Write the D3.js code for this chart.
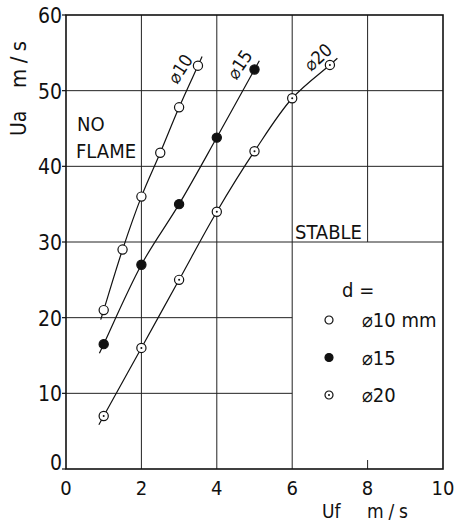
<!DOCTYPE html>
<html>
<head>
<meta charset="utf-8">
<script src="https://cdn.jsdelivr.net/npm/d3@7"></script>
<style>
  html, body { margin: 0; padding: 0; background: #fff; }
  svg { display: block; }
  text { font-family: "DejaVu Sans Condensed", "DejaVu Sans", sans-serif; font-stretch: condensed; fill: #111; }
</style>
</head>
<body>
<svg id="chart" width="455" height="522"></svg>
<script>
// Flame stability limit: air velocity Ua vs fuel velocity Uf, three nozzle diameters
const uf10 = [1, 1.5, 2, 2.5, 3, 3.5];
const ua10 = [21, 29, 36, 41.8, 47.8, 53.3];
const uf15 = [1, 2, 3, 4, 5];
const ua15 = [16.5, 27, 35, 43.8, 52.8];
const uf20 = [1, 2, 3, 4, 5, 6, 7];
const ua20 = [7, 16, 25, 34, 42, 49, 53.4];

const seriesNames = ["\u230010", "\u230015", "\u230020"];
const legendNames = ["\u230010 mm", "\u230015", "\u230020"];
const markerKinds = ["open", "filled", "dotted"];

const xTicks = [0, 2, 4, 6, 8, 10];
const yTicks = [0, 10, 20, 30, 40, 50, 60];

const series = [
  { name: seriesNames[0], legend: legendNames[0], kind: markerKinds[0], pts: uf10.map((u, i) => [u, ua10[i]]) },
  { name: seriesNames[1], legend: legendNames[1], kind: markerKinds[1], pts: uf15.map((u, i) => [u, ua15[i]]) },
  { name: seriesNames[2], legend: legendNames[2], kind: markerKinds[2], pts: uf20.map((u, i) => [u, ua20[i]]) }
];

const svg = d3.select("#chart");
const x = d3.scaleLinear().domain([0, 10]).range([66, 443]);
const y = d3.scaleLinear().domain([0, 60]).range([469, 15]);

const ink = "#111";
const g = svg.append("g");

// grid: the lower-right block (x >= 6, y <= 30) is kept free for the legend
const gridG = g.append("g").attr("stroke", "#222").attr("stroke-width", 1);
yTicks.filter(v => v > 0 && v < 60).forEach(v => {
  gridG.append("line")
    .attr("x1", x(0)).attr("x2", v < 30 ? x(6) : x(10))
    .attr("y1", y(v)).attr("y2", y(v));
});
xTicks.filter(v => v > 0 && v < 10).forEach(v => {
  gridG.append("line")
    .attr("x1", x(v)).attr("x2", x(v))
    .attr("y1", v > 6 ? y(30) : y(0)).attr("y2", y(60));
  if (v > 6) {
    gridG.append("line")
      .attr("x1", x(v)).attr("x2", x(v))
      .attr("y1", y(0)).attr("y2", y(0) - 9);
  }
});

// frame
g.append("rect")
  .attr("x", x(0)).attr("y", y(60))
  .attr("width", x(10) - x(0)).attr("height", y(0) - y(60))
  .attr("fill", "none").attr("stroke", ink).attr("stroke-width", 1.6);

// small outward ticks on the Ua axis
g.append("g").selectAll("line").data(yTicks).join("line")
  .attr("x1", x(0) - 4).attr("x2", x(0))
  .attr("y1", d => y(d)).attr("y2", d => y(d))
  .attr("stroke", ink).attr("stroke-width", 1.2);

// tick labels
g.append("g").selectAll("text").data(yTicks).join("text")
  .attr("x", x(0) - 4).attr("y", d => y(d) + (d === 0 ? 1 : 8))
  .attr("text-anchor", "end").attr("font-size", 21)
  .text(d => d);
g.append("g").selectAll("text").data(xTicks).join("text")
  .attr("x", d => x(d)).attr("y", 495)
  .attr("text-anchor", "middle").attr("font-size", 20)
  .text(d => d);

// axis titles
g.append("text").attr("x", 322).attr("y", 518).attr("font-size", 19).text("Uf");
g.append("text").attr("x", 367).attr("y", 518).attr("font-size", 19)
  .attr("textLength", 41).attr("lengthAdjust", "spacing").text("m/s");
g.append("text").attr("transform", "translate(26,136) rotate(-90)").attr("font-size", 21).text("Ua");
g.append("text").attr("transform", "translate(26,88) rotate(-90)").attr("font-size", 22)
  .attr("textLength", 47).attr("lengthAdjust", "spacing").text("m/s");

// region labels
g.append("text").attr("x", 77).attr("y", 131).attr("font-size", 20).text("NO");
g.append("text").attr("x", 76).attr("y", 158).attr("font-size", 20).text("FLAME");
g.append("text").attr("x", 295).attr("y", 239).attr("font-size", 20).text("STABLE");

// curves: smooth through the points, with a short tail past each end
const line = d3.line().curve(d3.curveCatmullRom.alpha(0.5));
const tail = 10;
function extend(px) {
  const n = px.length;
  const ext = (a, b) => {
    const dx = a[0] - b[0], dy = a[1] - b[1];
    const L = Math.hypot(dx, dy);
    return [a[0] + dx / L * tail, a[1] + dy / L * tail];
  };
  return [ext(px[0], px[1]), ...px, ext(px[n - 1], px[n - 2])];
}

const labelStyle = [
  { dx: -18, dy: 3, rot: -57 },
  { dx: -15, dy: -5, rot: -56 },
  { dx: -12, dy: -8, rot: -42 }
];

function marker(sel, kind, r) {
  sel.append("circle").attr("r", r)
    .attr("fill", kind === "filled" ? ink : "#fff")
    .attr("stroke", ink).attr("stroke-width", 1.2);
  if (kind === "dotted") sel.append("circle").attr("r", 1).attr("fill", ink);
}

series.forEach((s, i) => {
  const px = s.pts.map(p => [x(p[0]), y(p[1])]);
  g.append("path").attr("d", line(extend(px)))
    .attr("fill", "none").attr("stroke", ink).attr("stroke-width", 1.2);
  px.forEach(p => {
    const m = g.append("g").attr("transform", `translate(${p[0]},${p[1]})`);
    marker(m, s.kind, 4.6);
  });
  const last = px[px.length - 1];
  const ls = labelStyle[i];
  g.append("text")
    .attr("transform", `translate(${last[0] + ls.dx},${last[1] + ls.dy}) rotate(${ls.rot})`)
    .attr("text-anchor", "middle").attr("dominant-baseline", "central")
    .attr("font-size", 18).text(s.name);
});

// legend
const lg = g.append("g");
lg.append("text").attr("x", 342).attr("y", 297).attr("font-size", 20).text("d =");
series.forEach((s, i) => {
  const cy = 320 + i * 37.5;
  const m = lg.append("g").attr("transform", `translate(329,${cy})`);
  marker(m, s.kind, 4);
  lg.append("text").attr("x", 362).attr("y", cy + 7).attr("font-size", 20).text(s.legend);
});
</script>
</body>
</html>
